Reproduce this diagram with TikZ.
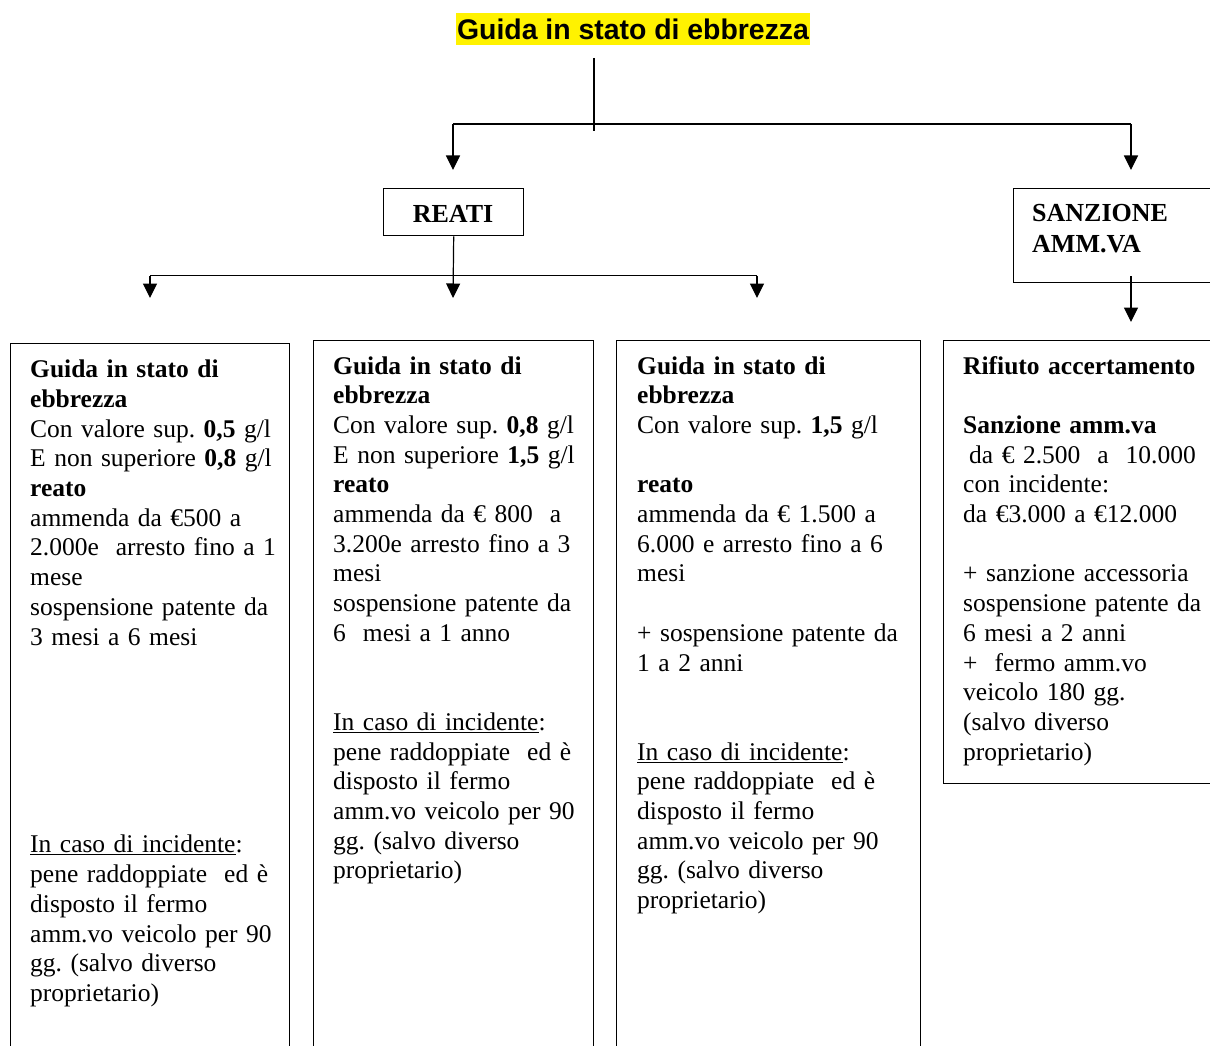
\documentclass[tikz,border=0pt]{standalone}
\usepackage{fontspec}
\setmainfont{Liberation Serif}
\newfontfamily\titlefont{Liberation Sans}
\usetikzlibrary{arrows.meta}
\frenchspacing
\tikzset{
  conn/.style={line width=1.2pt, draw=black},
  arr/.style={conn, -{Triangle[length=14.5pt,width=14pt]}},
  boxnode/.style={draw=black, line width=1.4pt, inner sep=0pt, anchor=north west},
  txt/.style={anchor=base west, inner sep=0pt, align=left, text width=300pt,
    font=\fontsize{25.5}{29.7}\selectfont\frenchspacing},
}
\begin{document}
\begin{tikzpicture}[x=1pt,y=-1pt]
\useasboundingbox (0,0) rectangle (1210,1046);
\clip (0,0) rectangle (1210,1046);
\fill[white] (0,0) rectangle (1210,1046);

% title
\node[fill=yellow, inner sep=0pt, anchor=north, minimum width=354pt,
      text height=26.3pt, text depth=5.7pt,
      font=\titlefont\bfseries\fontsize{28.4}{30}\selectfont] (title) at (633,13) {Guida in stato di ebbrezza};

% second-level boxes
\node[boxnode, minimum width=140pt, minimum height=47pt] (reati) at (383,188) {};
\node[inner sep=0pt, anchor=base, font=\bfseries\fontsize{26}{30}\selectfont] (reatitxt) at (453,222) {REATI};
\node[boxnode, minimum width=260pt, minimum height=94pt] (sanz) at (1013,188) {};
\node[anchor=base west, inner sep=0pt, align=left, text width=180pt,
      font=\bfseries\fontsize{26}{31}\selectfont] (sanztxt) at (1032,221.7) {SANZIONE\\AMM.VA};

% bottom boxes
\node[boxnode, minimum width=279pt, minimum height=760pt] (b1) at (10,343) {};
\node[boxnode, minimum width=280pt, minimum height=760pt] (b2) at (313,340) {};
\node[boxnode, minimum width=304pt, minimum height=760pt] (b3) at (616,340) {};
\node[boxnode, minimum width=320pt, minimum height=443pt] (b4) at (943,340) {};

\node[txt] (t1) at (30,377.7) {\textbf{Guida in stato di}\\
\textbf{ebbrezza}\\
Con valore sup. \textbf{0,5} g/l\\
E non superiore \textbf{0,8} g/l\\
\textbf{reato}\\
ammenda da €500 a\\
2.000e~ arresto fino a 1\\
mese\\
sospensione patente da\\
3 mesi a 6 mesi\\
\mbox{}\\ \mbox{}\\ \mbox{}\\ \mbox{}\\ \mbox{}\\ \mbox{}\\
\underline{In caso di incidente}:\\
pene raddoppiate~ ed è\\
disposto il fermo\\
amm.vo veicolo per 90\\
gg. (salvo diverso\\
proprietario)};

\node[txt] (t2) at (333,374) {\textbf{Guida in stato di}\\
\textbf{ebbrezza}\\
Con valore sup. \textbf{0,8} g/l\\
E non superiore \textbf{1,5} g/l\\
\textbf{reato}\\
ammenda da € 800~ a\\
3.200e arresto fino a 3\\
mesi\\
sospensione patente da\\
6~ mesi a 1 anno\\
\mbox{}\\ \mbox{}\\
\underline{In caso di incidente}:\\
pene raddoppiate~ ed è\\
disposto il fermo\\
amm.vo veicolo per 90\\
gg. (salvo diverso\\
proprietario)};

\node[txt] (t3) at (637,374) {\textbf{Guida in stato di}\\
\textbf{ebbrezza}\\
Con valore sup. \textbf{1,5} g/l\\
\mbox{}\\
\textbf{reato}\\
ammenda da € 1.500 a\\
6.000 e arresto fino a 6\\
mesi\\
\mbox{}\\
+ sospensione patente da\\
1 a 2 anni\\
\mbox{}\\ \mbox{}\\
\underline{In caso di incidente}:\\
pene raddoppiate~ ed è\\
disposto il fermo\\
amm.vo veicolo per 90\\
gg. (salvo diverso\\
proprietario)};

\node[txt] (t4) at (963,374) {\textbf{Rifiuto accertamento}\\
\mbox{}\\
\textbf{Sanzione amm.va}\\
\hspace*{6pt}da € 2.500~ a~ 10.000\\
con incidente:\\
da €3.000 a €12.000\\
\mbox{}\\
+ sanzione accessoria\\
sospensione patente da\\
6 mesi a 2 anni\\
+~ fermo amm.vo\\
veicolo 180 gg.\\
(salvo diverso\\
proprietario)};

% connector points
\coordinate (ts) at (594,58);
\coordinate (tj) at (594,131);
\coordinate (jL) at (453,124);
\coordinate (jR) at (1131,124);
\coordinate (pReati) at (453,170);
\coordinate (pSanz) at (1131,170);
\coordinate (hL) at (150,275.5);
\coordinate (hR) at (757,275.5);
\coordinate (p1) at (150,298);
\coordinate (p2) at (453,298);
\coordinate (p3) at (757,298);
\coordinate (s0) at (1131,276);
\coordinate (p4) at (1131,322);

\draw[conn] (ts) -- (tj);
\draw[conn] (jL) -- (jR);
\draw[arr] (jL) -- (pReati);
\draw[arr] (jR) -- (pSanz);
\draw[arr] (reati.south) -- (p2);
\draw[conn] (hL) -- (hR);
\draw[arr] (hL) -- (p1);
\draw[arr] (hR) -- (p3);
\draw[arr] (s0) -- (p4);
\end{tikzpicture}
\end{document}
